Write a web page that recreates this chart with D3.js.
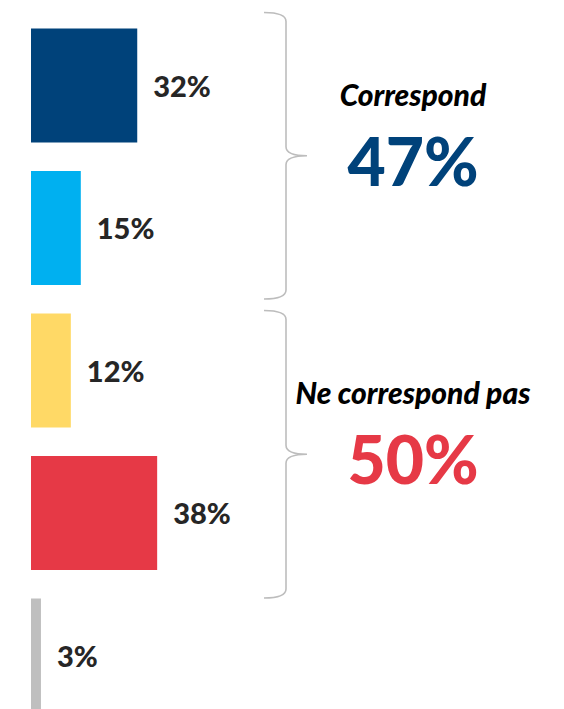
<!DOCTYPE html>
<html>
<head>
<meta charset="utf-8">
<script src="https://cdn.jsdelivr.net/npm/d3@7"></script>
<style>
  html, body { margin: 0; padding: 0; background: #fff; }
  svg { display: block; }
</style>
</head>
<body>
<div class="content"></div>
<script>
// data
const categories = ["r1", "r2", "r3", "r4", "r5"];
const values = [32, 15, 12, 38, 3];
const barColors = ["#00427A", "#00B0F0", "#FFD966", "#E63946", "#BFBFBF"];

const groupLabels = ["Correspond", "Ne correspond pas"];
const groupTotals = [47, 50];
const groupColors = ["#00427A", "#E63946"];
const groupMembers = [["r1", "r2"], ["r3", "r4"]];

var width = 564,
    height = 709;

var svg = d3.select(".content")
    .append("svg")
    .attr("width", width)
    .attr("height", height);

// scales
var x = d3.scaleLinear()
    .domain([0, 100])
    .range([31, 363]);

var y = d3.scaleBand()
    .domain(categories)
    .range([0, 741])
    .padding(0.2);

var rows = categories.map(function(c, i) {
    return {cat: c, value: values[i], color: barColors[i]};
});

// bars
svg.selectAll(".bar")
    .data(rows)
    .enter()
    .append("rect")
    .attr("class", "bar")
    .attr("x", x(0))
    .attr("y", function(d) { return y(d.cat); })
    .attr("width", function(d) { return x(d.value) - x(0); })
    .attr("height", y.bandwidth())
    .attr("fill", function(d) { return d.color; });

// value labels
svg.selectAll(".lbl")
    .data(rows)
    .enter()
    .append("text")
    .attr("class", "lbl")
    .attr("x", function(d) { return x(d.value) + 16; })
    .attr("y", function(d) { return y(d.cat) + y.bandwidth() / 2 + 11; })
    .style("font-family", "Lato, 'Open Sans', sans-serif")
    .style("font-weight", "900")
    .style("font-size", "29px")
    .style("fill", "#262626")
    .text(function(d) { return d.value + "%"; });

// curly brace path
function brace(top, bot) {
    var x0 = 264, x1 = 286, tip = 307, r = 9;
    var mid = (top + bot) / 2;
    var p = d3.path();
    p.moveTo(x0, top);
    p.quadraticCurveTo(x1, top, x1, top + r);
    p.lineTo(x1, mid - r);
    p.quadraticCurveTo(x1, mid, tip, mid);
    p.quadraticCurveTo(x1, mid, x1, mid + r);
    p.lineTo(x1, bot - r);
    p.quadraticCurveTo(x1, bot, x0, bot);
    return p.toString();
}

var extents = [[-16, 14], [-3, 28]];

groupMembers.forEach(function(m, i) {
    var top = y(m[0]) + extents[i][0];
    var bot = y(m[m.length - 1]) + y.bandwidth() + extents[i][1];
    var mid = (top + bot) / 2;

    svg.append("path")
        .attr("d", brace(top, bot))
        .attr("fill", "none")
        .attr("stroke", "#BDBDBD")
        .attr("stroke-width", 1.6);

    svg.append("text")
        .attr("x", 413)
        .attr("y", mid - 50)
        .attr("text-anchor", "middle")
        .style("font-family", "Lato, 'Open Sans', sans-serif")
        .style("font-weight", "900")
        .style("font-style", "italic")
        .style("font-size", "30px")
        .style("fill", "#000")
        .text(groupLabels[i]);

    svg.append("text")
        .attr("x", 413)
        .attr("y", mid + 30)
        .attr("text-anchor", "middle")
        .style("font-family", "Lato, 'Open Sans', sans-serif")
        .style("font-weight", "900")
        .style("font-size", "66px")
        .style("fill", groupColors[i])
        .text(groupTotals[i] + "%");
});
</script>
</body>
</html>
